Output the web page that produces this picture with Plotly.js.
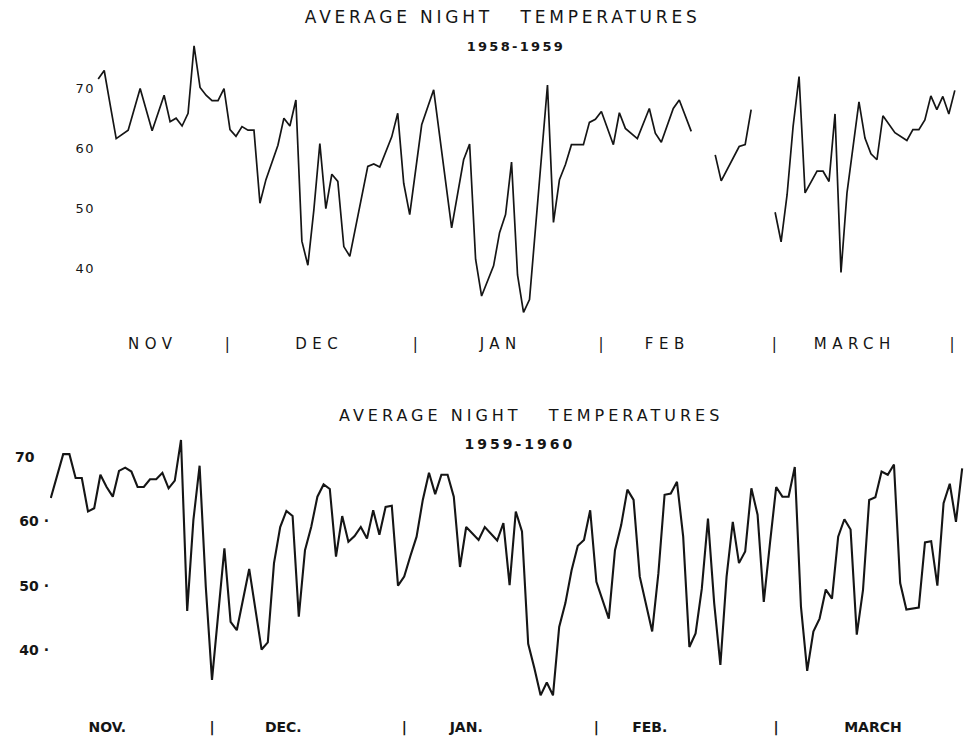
<!DOCTYPE html>
<html>
<head>
<meta charset="utf-8">
<script src="https://cdn.plot.ly/plotly-3.0.1.min.js"></script>
<style>
  html, body { margin: 0; padding: 0; background: #fff; }
  #chart { width: 968px; height: 742px; }
  .subplot.xy .xtick text { letter-spacing: 5.5px; }
  .subplot.x2y2 .xtick text { letter-spacing: 2.5px; }
  .subplot.xy .ytick text { letter-spacing: 1.5px; }
  .subplot.x2y2 .ytick text { letter-spacing: 2px; }
  g.annotation[data-index="0"] text { letter-spacing: 3.8px; }
  g.annotation[data-index="1"] text { letter-spacing: 2.3px; }
  g.annotation[data-index="2"] text { letter-spacing: 4px; }
  g.annotation[data-index="3"] text { letter-spacing: 3px; }
</style>
</head>
<body>
<div id="chart"></div>
<script>
// Day index: Nov 1 = 1, Dec 1 = 31, Jan 1 = 62, Feb 1 = 93, ...
// ---------- 1958-1959 ----------
const days5859 = [9,10,11,12,14,16,18,20,21,22,23,24,25,26,27,28,29,30,31,32,33,34,35,36,37,39,40,41,42,43,44,45,46,47,48,49,50,51,54,55,56,58,59,60,61,63,65,68,70,71,72,73,75,76,77,78,79,80,81,82,84,85,86,87,88,90,91,92,93,95,96,97,99,101,102,103,105,106,108,110,112,113,116,117,118,120,122,123,124,125,126,127,129,130,131,132,133,134,136,137,138,139,140,142,144,145,146,147,148,149,150,151,152];
const temps5859 = [71.5,72.9,67.2,61.6,63,69.9,62.9,68.8,64.4,65,63.7,65.8,77,70.1,68.8,67.9,67.9,69.9,63.1,62,63.6,63,63,50.9,54.8,60.5,65,63.7,68,44.6,40.6,49.8,60.8,50,55.7,54.5,43.7,42.1,57,57.4,56.9,61.9,65.8,54.2,49,63.9,69.7,46.8,58.1,60.7,41.6,35.5,40.5,46,49,57.7,39,32.8,34.9,46.6,70.5,47.7,54.8,57.3,60.6,60.6,64.3,64.8,66.1,60.6,65.9,63.3,61.6,66.6,62.5,61,66.6,68,62.8,null,58.9,54.6,60.3,60.6,66.4,null,49.4,44.5,52.3,63.6,71.9,52.6,56.2,56.2,54.5,65.7,39.4,52.6,67.7,61.7,59.1,58.1,65.4,62.6,61.3,63.1,63.1,64.7,68.7,66.4,68.6,65.7,69.6];

// ---------- 1959-1960 ----------
const days5960 = [5,7,8,9,10,11,12,13,14,15,16,17,18,19,20,21,22,23,24,25,26,27,28,29,30,31,33,34,35,37,39,40,41,42,43,44,45,46,47,48,49,50,51,52,53,54,55,56,57,58,59,60,61,62,63,64,65,66,67,68,69,70,71,72,74,75,77,78,79,80,81,82,83,84,85,86,87,88,89,90,91,92,93,94,95,96,97,98,99,100,101,102,103,104,105,106,107,108,109,110,111,112,113,114,115,116,117,118,119,120,121,122,123,124,125,126,127,128,129,130,131,132,133,134,135,136,137,138,139,140,141,142,143,145,146,147,148,149,150,151,152];
const temps5960 = [63.6,70.4,70.4,66.7,66.7,61.5,62,67.2,65.3,63.8,67.8,68.3,67.7,65.3,65.3,66.5,66.5,67.5,65.1,66.3,72.6,46.1,60.2,68.6,49.8,35.4,55.8,44.4,43.1,52.6,40.1,41.2,53.5,59.1,61.6,60.8,45.2,55.5,59.1,63.8,65.7,65,54.5,60.8,56.8,57.7,59.1,57.3,61.7,57.9,62.2,62.4,50,51.4,54.6,57.6,63.3,67.5,64.2,67.2,67.2,63.8,52.9,59.1,57.1,59.1,57,59.7,50.1,61.5,58.4,41,37.2,33,35,33,43.6,47.3,52.4,56.2,57.1,61.7,50.6,47.8,44.9,55.5,59.4,64.9,63.3,51.4,47.3,42.9,51.9,64.1,64.3,66.1,57.6,40.5,42.6,49.5,60.4,47.3,37.7,51.4,59.9,53.5,55.3,65.1,61,47.5,56.6,65.3,63.8,63.8,68.4,46.7,36.8,42.9,44.9,49.4,48,57.6,60.3,58.7,42.4,49.3,63.3,63.7,67.7,67.2,68.8,50.4,46.3,46.6,56.7,56.9,50,62.8,65.8,59.9,68.2];

// ---------- labels ----------
const yTicks = [40, 50, 60, 70];
const yText5859 = ["40", "50", "60", "70"];
const yText5960 = ["40 ·", "50 ·", "60 ·", "70\u00a0\u00a0\u00a0"];
const monthPos5859 = [18.1, 31, 45.9, 62.4, 76.2, 93.4, 104, 122.3, 135.3, 152];
const monthText5859 = ["NOV", "|", "DEC", "|", "JAN", "|", "FEB", "|", "MARCH", "|"];
const monthPos5960 = [14.1, 31, 42.5, 62, 72, 93, 101.6, 122, 137.6];
const monthText5960 = ["NOV.", "|", "DEC.", "|", "JAN.", "|", "FEB.", "|", "MARCH"];
const titleText = "AVERAGE NIGHT\u00a0\u00a0\u00a0TEMPERATURES";
const season1 = "1958-1959";
const season2 = "1959-1960";

const ink = "#151515";
const boldFont = { family: "DejaVu Sans, sans-serif", size: 14, color: ink, weight: "bold" };

const traces = [
  { x: days5859, y: temps5859, type: "scatter", mode: "lines", connectgaps: false,
    line: { color: ink, width: 1.7 }, xaxis: "x", yaxis: "y", hoverinfo: "skip" },
  { x: days5960, y: temps5960, type: "scatter", mode: "lines", connectgaps: false,
    line: { color: ink, width: 2.1 }, xaxis: "x2", yaxis: "y2", hoverinfo: "skip" }
];

const H = 742, W = 968;
const axisBase = { showgrid: false, zeroline: false, showline: false, ticks: "", fixedrange: true };

const layout = {
  width: W, height: H,
  margin: { l: 0, r: 0, t: 0, b: 0 },
  paper_bgcolor: "#fff", plot_bgcolor: "#fff",
  showlegend: false,
  xaxis: Object.assign({}, axisBase, {
    domain: [96 / W, 965 / W], range: [8.63, 153.7],
    tickmode: "array", tickvals: monthPos5859, ticktext: monthText5859,
    tickfont: { family: "DejaVu Sans, sans-serif", size: 15, color: ink }
  }),
  yaxis: Object.assign({}, axisBase, {
    domain: [1 - 333 / H, 1 - 40 / H], range: [29.37, 77.96],
    tickmode: "array", tickvals: yTicks, ticktext: yText5859,
    tickfont: { family: "DejaVu Sans, sans-serif", size: 13, color: ink }
  }),
  xaxis2: Object.assign({}, axisBase, {
    anchor: "y2",
    domain: [50 / W, 1], range: [4.87, 152.94],
    tickmode: "array", tickvals: monthPos5960, ticktext: monthText5960,
    tickfont: boldFont
  }),
  yaxis2: Object.assign({}, axisBase, {
    anchor: "x2",
    domain: [1 - 717 / H, 1 - 430 / H], range: [29.64, 74.14],
    tickmode: "array", tickvals: yTicks, ticktext: yText5960,
    tickfont: { family: "DejaVu Sans, sans-serif", size: 14, color: ink, weight: "bold" }
  }),
  annotations: [
    { text: titleText, xref: "paper", yref: "paper", x: 502 / W, y: 1 - 17 / H,
      showarrow: false, xanchor: "center", yanchor: "middle",
      font: { family: "DejaVu Sans, sans-serif", size: 17, color: ink } },
    { text: season1, xref: "paper", yref: "paper", x: 516 / W, y: 1 - 47 / H,
      showarrow: false, xanchor: "center", yanchor: "middle",
      font: { family: "DejaVu Sans, sans-serif", size: 13, color: ink, weight: "bold" } },
    { text: titleText, xref: "paper", yref: "paper", x: 531 / W, y: 1 - 415 / H,
      showarrow: false, xanchor: "center", yanchor: "middle",
      font: { family: "DejaVu Sans, sans-serif", size: 16, color: ink } },
    { text: season2, xref: "paper", yref: "paper", x: 520 / W, y: 1 - 444 / H,
      showarrow: false, xanchor: "center", yanchor: "middle",
      font: { family: "DejaVu Sans, sans-serif", size: 14, color: ink, weight: "bold" } }
  ]
};

Plotly.newPlot("chart", traces, layout, { staticPlot: true, displayModeBar: false });
</script>
</body>
</html>
